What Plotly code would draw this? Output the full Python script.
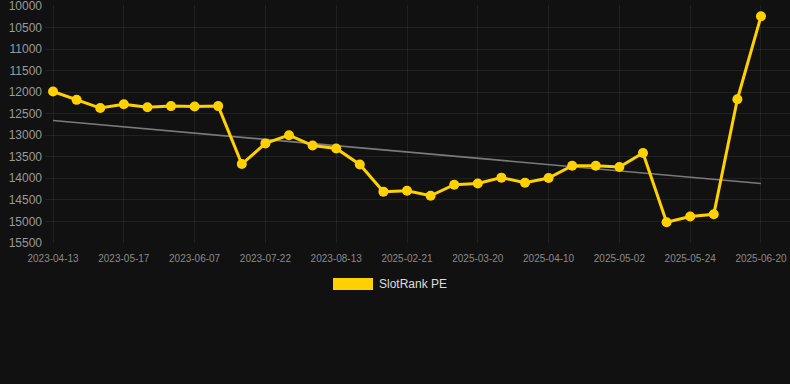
import plotly.graph_objects as go

tick_labels = ["2023-04-13", "2023-05-17", "2023-06-07", "2023-07-22", "2023-08-13",
               "2025-02-21", "2025-03-20", "2025-04-10", "2025-05-02", "2025-05-24", "2025-06-20"]
rank_values = [11985, 12180, 12370, 12280, 12350, 12325, 12335, 12325, 13670, 13190,
               13000, 13240, 13310, 13680, 14310, 14290, 14405, 14150, 14120, 13985,
               14105, 13995, 13710, 13710, 13740, 13415, 15020, 14885, 14835, 12165, 10240]
trend_values = [12660, 14120]
y_ticks = [10000, 10500, 11000, 11500, 12000, 12500, 13000, 13500, 14000, 14500, 15000, 15500]
series_name = "SlotRank PE"

n = len(rank_values)
x_idx = list(range(n))
tick_idx = list(range(0, n, 3))

GOLD = "#FFD100"
W, H = 790, 384
ML, MR, MT, MB = 45, 0, 5, 141
PW, PH = W - ML - MR, H - MT - MB


def px_x(px):
    return (px - ML) / PW


def px_y(py):
    return (H - MB - py) / PH


fig = go.Figure()
fig.add_trace(go.Scatter(
    x=[0, n - 1], y=trend_values, mode="lines",
    line=dict(color="#7a7a7a", width=1.6), showlegend=False, hoverinfo="skip"))
fig.add_trace(go.Scatter(
    x=x_idx, y=rank_values, mode="lines+markers", name=series_name,
    line=dict(color=GOLD, width=3),
    marker=dict(color=GOLD, size=10),
    showlegend=False))

# legend (box + label) drawn below the plot
fig.add_shape(type="rect", xref="paper", yref="paper",
              x0=px_x(333), x1=px_x(373), y0=px_y(290), y1=px_y(278),
              fillcolor=GOLD, line=dict(width=0))
fig.add_annotation(xref="paper", yref="paper", x=px_x(377), y=px_y(284),
                   xanchor="left", yanchor="middle", showarrow=False,
                   text=series_name, font=dict(size=12, color="#dddddd"))

fig.update_layout(
    width=W, height=H,
    paper_bgcolor="#111111", plot_bgcolor="#111111",
    margin=dict(l=ML, r=MR, t=MT, b=MB),
    font=dict(family="Liberation Sans, Arial, sans-serif"),
    showlegend=False,
)
fig.update_xaxes(
    range=[-0.34, n - 1 + 1.23],
    tickmode="array", tickvals=tick_idx, ticktext=tick_labels,
    tickfont=dict(size=10, color="#8a8a8a"),
    showgrid=True, gridcolor="rgba(255,255,255,0.07)", gridwidth=1,
    zeroline=False, showline=False, ticks="", ticklabelstandoff=8,
    ticklabeloverflow="allow",
)
fig.update_yaxes(
    range=[15502, 9978],
    tickmode="array", tickvals=y_ticks, ticktext=[str(v) for v in y_ticks],
    tickfont=dict(size=12, color="#9a9a9a"),
    showgrid=True, gridcolor="rgba(255,255,255,0.07)", gridwidth=1,
    zeroline=False, showline=False, ticks="", ticklabelstandoff=2,
    ticklabeloverflow="allow",
)

fig.write_html(
    "out.html",
    config={"displayModeBar": False},
    post_script="document.body.style.margin='0';document.body.style.background='#111111';document.body.style.overflow='hidden';",
)
